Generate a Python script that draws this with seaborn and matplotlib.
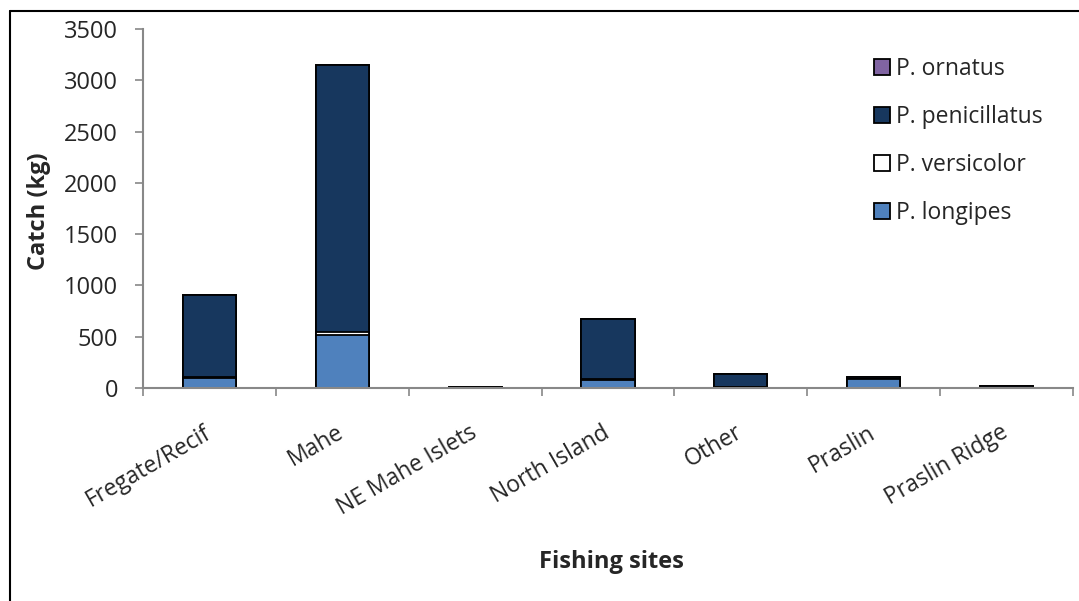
import numpy as np
import pandas as pd
import matplotlib
matplotlib.use("Agg")
import matplotlib.pyplot as plt
from matplotlib.patches import Patch
from matplotlib.lines import Line2D
import seaborn as sns

sites = ["Fregate/Recif", "Mahe", "NE Mahe Islets", "North Island", "Other", "Praslin", "Praslin Ridge"]
longipes = [100, 517, 0, 80, 5, 90, 0]
versicolor = [5, 30, 0, 5, 0, 0, 0]
penicillatus = [805, 2600, 10, 585, 135, 20, 20]
ornatus = [0, 5, 0, 0, 0, 0, 0]

species = ["P. longipes", "P. versicolor", "P. penicillatus", "P. ornatus"]
colors = {"P. longipes": "#4F81BD", "P. versicolor": "#FFFFFF",
          "P. penicillatus": "#17375E", "P. ornatus": "#8064A2"}

df = pd.DataFrame({"site": sites, "P. longipes": longipes, "P. versicolor": versicolor,
                   "P. penicillatus": penicillatus, "P. ornatus": ornatus})
cum = df[species].cumsum(axis=1)

sns.set_theme(style="white")
plt.rcParams["font.family"] = ["Open Sans", "DejaVu Sans"]

fig = plt.figure(figsize=(10.79, 6.01), dpi=100)
ax = fig.add_axes([143 / 1079, 1 - 388 / 601, (1073 - 143) / 1079, (388 - 29) / 601])

# overlay cumulative bars, tallest first
for sp in reversed(species):
    sns.barplot(x=df["site"], y=cum[sp], order=sites, color=colors[sp], saturation=1,
                width=0.4, edgecolor="black", linewidth=1.3, ax=ax)

ax.set_ylim(0, 3500)
ax.set_xlim(-0.5, 6.5)
ax.set_yticks(np.arange(0, 3501, 500))
ax.tick_params(axis="y", labelsize=17, length=6, color="#888888", width=1.2, left=True, pad=12)
ax.set_xticks(range(len(sites)))
ax.set_xticklabels(sites, rotation=30, ha="right", va="center", rotation_mode="anchor", fontsize=16.5)
ax.tick_params(axis="x", which="major", length=0, pad=31)
ax.set_xticks(np.arange(-0.5, 7, 1), minor=True)
ax.tick_params(axis="x", which="minor", length=6, color="#888888", width=1.2, bottom=True)

for s in ["top", "right"]:
    ax.spines[s].set_visible(False)
for s in ["left", "bottom"]:
    ax.spines[s].set_color("#888888")
    ax.spines[s].set_linewidth(1.5)

ax.set_xlabel("")
ax.set_ylabel("")
fig.text(39 / 1079, 1 - 211 / 601, "Catch (kg)", rotation=90, ha="center", va="center",
         fontsize=17, fontweight="bold")
fig.text(611 / 1079, 1 - 562 / 601, "Fishing sites", ha="center", va="center",
         fontsize=17, fontweight="bold")

handles = [Patch(facecolor=colors[sp], edgecolor="black", linewidth=1.3) for sp in reversed(species)]
labels = list(reversed(species))
leg = ax.legend(handles, labels, loc="upper left", bbox_to_anchor=(865 / 1079, 1 - 48 / 601),
                bbox_transform=fig.transFigure, frameon=False, fontsize=16.5,
                handlelength=0.7, handleheight=0.7, handletextpad=0.25, labelspacing=1.05,
                borderaxespad=0)

# figure border
fig.add_artist(Line2D([9.5 / 1079, 9.5 / 1079], [0, 1 - 10.5 / 601], color="black", lw=1.5,
                      transform=fig.transFigure))
fig.add_artist(Line2D([9.5 / 1079, 1], [1 - 10.5 / 601, 1 - 10.5 / 601], color="black", lw=1.5,
                      transform=fig.transFigure))

fig.savefig("out.png", dpi=100)
